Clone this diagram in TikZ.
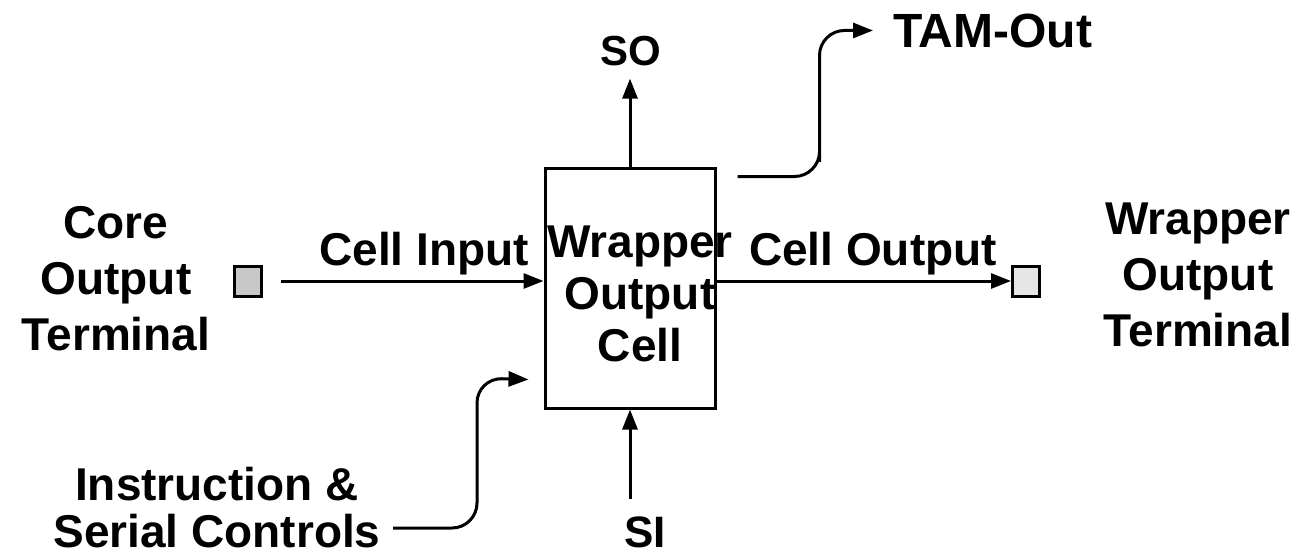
\documentclass[tikz,border=0pt]{standalone}
\usepackage{fontspec}
\setmainfont{Liberation Sans}
\usetikzlibrary{arrows.meta,calc}
\definecolor{termA}{RGB}{200,200,200}
\definecolor{termB}{RGB}{230,230,230}
\begin{document}
\begin{tikzpicture}[x=1pt,y=-1pt,
  lab/.style={font=\bfseries\fontsize{46}{56}\selectfont, inner sep=0pt, anchor=base},
  wire/.style={line width=3pt},
  arr/.style={wire, -{Triangle[length=20pt,width=15pt]}},
  term/.style={draw, line width=3pt, inner sep=0pt, minimum width=27pt, minimum height=30pt}]
\useasboundingbox (0,0) rectangle (1301,557);
% main cell
\node[draw, line width=3pt, minimum width=170pt, minimum height=240pt, inner sep=0pt] (cell) at (630,288) {};
\node[lab, font=\bfseries\fontsize{46}{52}\selectfont] (celltxt) at (640,257)
  {\begin{tabular}[t]{@{}c@{}}Wrapper\\Output\\Cell\end{tabular}};
% terminals
\node[term, fill=termA] (cot) at (248,281) {};
\node[term, fill=termB] (wot) at (1026,281) {};
% labels
\node[lab] (cotl) at (116,238) {\begin{tabular}[t]{@{}c@{}}Core\\Output\\Terminal\end{tabular}};
\node[lab] (wotl) at (1198,234) {\begin{tabular}[t]{@{}c@{}}Wrapper\\Output\\Terminal\end{tabular}};
\node[lab] (cin) at (424,265) {Cell Input};
\node[lab] (cout) at (873,265) {Cell Output};
\node[lab, font=\bfseries\fontsize{42}{50}\selectfont] (so) at (631,65) {SO};
\node[lab, font=\bfseries\fontsize{44}{50}\selectfont] (si) at (645,547) {SI};
\node[lab, anchor=base west, font=\bfseries\fontsize{48}{56}\selectfont] (tam) at (893,47) {TAM-Out};
\node[lab, font=\bfseries\fontsize{46}{47}\selectfont] (isc) at (217,500)
  {\begin{tabular}[t]{@{}c@{}}Instruction \&\\Serial Controls\end{tabular}};
% helper coordinates
\coordinate (tamsrc) at ($(cell.north east)+(21,10)$);
\coordinate (tamtip) at ($(tam.west)+(-20,0)$);
\coordinate (iscsrc) at (393,528);
\coordinate (isctip) at ($(cell.south west)+(-15,-30)$);
\coordinate (cinsrc) at ($(cot.east)+(18,0)$);
% connectors
\draw[arr] (cinsrc) -- (cot.east -| cell.west);
\draw[arr] (cell.east |- wot.west) -- (wot.west);
\draw[arr] (cell.north) -- ($(cell.north |- so.south)+(0,13)$);
\draw[arr] ($(cell.south |- si.north)+(0,-17)$) -- (cell.south);
\draw[arr, rounded corners=25pt] (tamsrc) -| ($(tamsrc)+(82,0)$) |- (tamtip);
\draw[arr, rounded corners=25pt] (iscsrc) -| (477,378) -- (isctip);
\end{tikzpicture}
\end{document}
